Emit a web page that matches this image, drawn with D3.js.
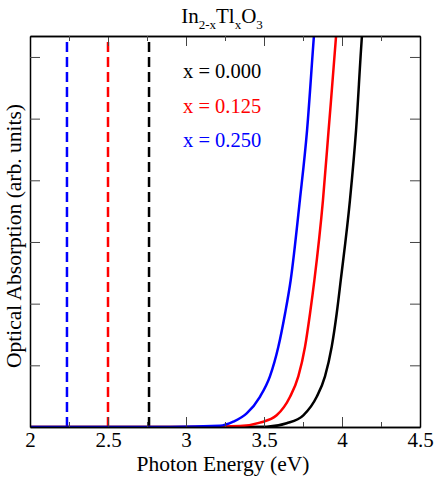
<!DOCTYPE html>
<html>
<head>
<meta charset="utf-8">
<script src="https://cdn.jsdelivr.net/npm/d3@7"></script>
<style>
  body { margin: 0; background: #fff; }
  text { font-family: "Liberation Serif", "DejaVu Serif", serif; }
</style>
</head>
<body>
<script>
// Composition labels and computed band gaps (eV)
var compositions = ["x = 0.000", "x = 0.125", "x = 0.250"];
var bandGaps = [2.763, 2.50, 2.237];

// Absorption curves [energy (eV), absorption (arb.)]
var absorption000 = [[2.0, 0], [3.3, 0], [3.517, 0.005], [3.645, 0.06], [3.752, 0.19], [3.838, 0.49], [3.891, 0.82],
    [3.934, 1.30], [3.966, 1.84], [3.992, 2.38], [4.051, 3.68], [4.09, 4.81], [4.128, 6.34], [4.15, 7.0]];
var absorption125 = [[2.0, 0], [3.0, 0.001], [3.346, 0.016], [3.474, 0.07], [3.581, 0.19], [3.667, 0.49], [3.72, 0.82],
    [3.763, 1.30], [3.795, 1.84], [3.823, 2.38], [3.878, 3.68], [3.914, 4.81], [3.962, 6.34], [3.98, 7.0]];
var absorption250 = [[2.0, 0], [2.9, 0.001], [3.218, 0.02], [3.303, 0.086], [3.389, 0.22], [3.474, 0.49], [3.538, 0.82],
    [3.592, 1.30], [3.635, 1.84], [3.671, 2.38], [3.73, 3.68], [3.776, 4.81], [3.82, 6.34], [3.84, 7.0]];

var majorTicksX = [2, 2.5, 3, 3.5, 4, 4.5];
var minorTicksX = [2.25, 2.75, 3.25, 3.75, 4.25];
var ticksY = [1, 2, 3, 4, 5, 6];

var seriesColors = ["#000000", "#ff0000", "#0000ff"];
var allSeries = [absorption000, absorption125, absorption250];

var width = 440, height = 478;
var margin = {left: 30, right: 20, top: 36, bottom: 51};

var svg = d3.select("body").append("svg")
    .attr("width", width)
    .attr("height", height);

var x = d3.scaleLinear().domain([2, 4.5]).range([margin.left, width - margin.right]);
var y = d3.scaleLinear().domain([0, 6.34]).range([height - margin.bottom, margin.top]);

svg.append("clipPath").attr("id", "plotClip")
    .append("rect")
    .attr("x", x(2)).attr("y", y(6.34))
    .attr("width", x(4.5) - x(2)).attr("height", y(0) - y(6.34));

// band gap markers
svg.append("g").selectAll("line")
    .data(bandGaps)
    .enter().append("line")
    .attr("x1", function (d) { return x(d); })
    .attr("x2", function (d) { return x(d); })
    .attr("y1", y(0))
    .attr("y2", y(6.34))
    .attr("stroke", function (d, i) { return seriesColors[i]; })
    .attr("stroke-width", 2.5)
    .attr("stroke-dasharray", "10,5");

// absorption curves
var line = d3.line()
    .x(function (d) { return x(d[0]); })
    .y(function (d) { return y(d[1]); })
    .curve(d3.curveMonotoneX);

svg.append("g").attr("clip-path", "url(#plotClip)")
    .selectAll("path")
    .data(allSeries)
    .enter().append("path")
    .attr("d", line)
    .attr("fill", "none")
    .attr("stroke", function (d, i) { return seriesColors[i]; })
    .attr("stroke-width", 2.5);

// axes with inward ticks
function styleAxis(g) {
    g.select(".domain").attr("stroke", "#000").attr("stroke-width", 1.5);
    g.selectAll(".tick line").attr("stroke", "#444").attr("stroke-width", 1);
}

svg.append("g")
    .attr("transform", "translate(0," + y(0) + ")")
    .call(d3.axisBottom(x).tickValues(majorTicksX).tickSize(-10).tickSizeOuter(0).tickPadding(5)
        .tickFormat(function (d) { return d; }))
    .call(styleAxis)
    .call(function (g) {
        g.selectAll("text").attr("font-size", 21).attr("fill", "#000")
            .attr("font-family", "Liberation Serif");
    });

svg.append("g")
    .attr("transform", "translate(0," + y(0) + ")")
    .call(d3.axisBottom(x).tickValues(minorTicksX).tickSize(-5).tickSizeOuter(0).tickFormat(""))
    .call(styleAxis);

svg.append("g")
    .attr("transform", "translate(0," + y(6.34) + ")")
    .call(d3.axisTop(x).tickValues(majorTicksX).tickSize(-10).tickSizeOuter(0).tickFormat(""))
    .call(styleAxis);

svg.append("g")
    .attr("transform", "translate(0," + y(6.34) + ")")
    .call(d3.axisTop(x).tickValues(minorTicksX).tickSize(-5).tickSizeOuter(0).tickFormat(""))
    .call(styleAxis);

svg.append("g")
    .attr("transform", "translate(" + x(2) + ",0)")
    .call(d3.axisLeft(y).tickValues(ticksY).tickSize(-10).tickSizeOuter(0).tickFormat(""))
    .call(styleAxis);

svg.append("g")
    .attr("transform", "translate(" + x(4.5) + ",0)")
    .call(d3.axisRight(y).tickValues(ticksY).tickSize(-10).tickSizeOuter(0).tickFormat(""))
    .call(styleAxis);

// axis titles
svg.append("text")
    .attr("x", 223)
    .attr("y", 471)
    .attr("text-anchor", "middle")
    .attr("font-size", 21.5)
    .text("Photon Energy (eV)");

svg.append("text")
    .attr("transform", "translate(21,236) rotate(-90)")
    .attr("text-anchor", "middle")
    .attr("font-size", 21.5)
    .text("Optical Absorption (arb. units)");

// title with subscripts
var title = svg.append("text")
    .attr("x", 222)
    .attr("y", 23)
    .attr("text-anchor", "middle")
    .attr("font-size", 21);
title.append("tspan").text("In");
title.append("tspan").attr("font-size", 13).attr("dy", 6).text("2-x");
title.append("tspan").attr("dy", -6).text("Tl");
title.append("tspan").attr("font-size", 13).attr("dy", 6).text("x");
title.append("tspan").attr("dy", -6).text("O");
title.append("tspan").attr("font-size", 13).attr("dy", 6).text("3");

// legend
svg.append("g").selectAll("text")
    .data(compositions)
    .enter().append("text")
    .attr("x", 183)
    .attr("y", function (d, i) { return 78 + i * 34.5; })
    .attr("font-size", 20.5)
    .attr("fill", function (d, i) { return seriesColors[i]; })
    .text(function (d) { return d; });
</script>
</body>
</html>
